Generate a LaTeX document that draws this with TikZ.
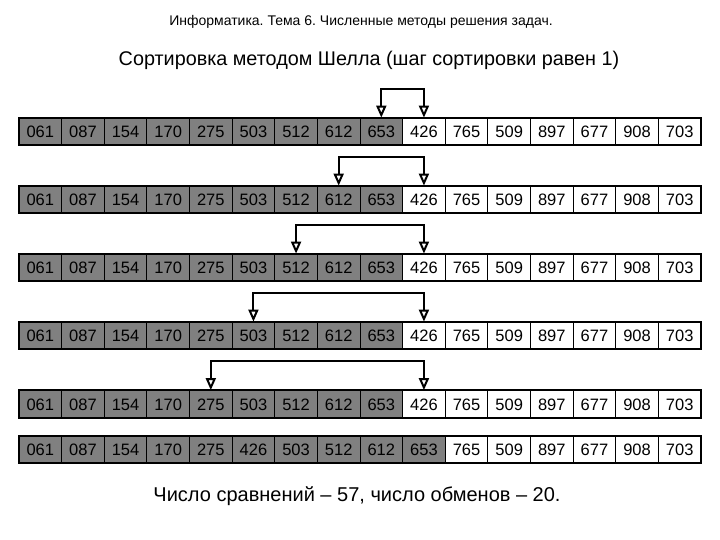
\documentclass[tikz,border=0pt]{standalone}
\usepackage{fontspec}
\setmainfont{Liberation Sans}
\usetikzlibrary{arrows.meta, positioning, calc}
\definecolor{cellgray}{RGB}{128,128,128}
\frenchspacing

\begin{document}
\begin{tikzpicture}[x=1pt, y=-1pt,
    cell/.style={draw,
      minimum width=42.625pt,
      minimum height=27pt,
      inner sep=0pt,
      text height=12pt,
      text depth=0pt,
      anchor=center,
      line width=0.8pt,
      font=\fontsize{16.5}{18}\selectfont},
    graycell/.style={cell, fill=cellgray},
    rowframe/.style={draw, line width=2pt},
    swaparrow/.style={line width=2pt,
      {Triangle[open, length=12pt, width=10pt]}-{Triangle[open, length=12pt, width=10pt]}}]
  \useasboundingbox (0,0) rectangle (720,540);

  % TITLES

  \node (theme) at (361,22) {\fontsize{14}{16}\selectfont
    Информатика. Тема 6. Численные методы решения задач.};

  \node (title) at (369,60) {\fontsize{19.8}{23}\selectfont
    Сортировка методом Шелла (шаг сортировки равен 1)};

  % ROWS

  \foreach \r/\y in {1/131.5, 2/199.5, 3/267.5, 4/335.5, 5/404}{
    \foreach \v [count=\c] in {061,087,154,170,275,503,512,612,653,426,765,509,897,677,908,703}{
      \ifnum\c<10 \def\st{graycell}\else\def\st{cell}\fi
      \node[\st] (r\r c\c) at ({19+(\c-0.5)*42.625},\y) {\v};
    }
    \draw[rowframe] (r\r c1.north west) rectangle (r\r c16.south east);
  }

  \foreach \v [count=\c] in {061,087,154,170,275,426,503,512,612,653,765,509,897,677,908,703}{
    \ifnum\c<11 \def\st{graycell}\else\def\st{cell}\fi
    \node[\st] (r6c\c) at ({19+(\c-0.5)*42.625},449.5) {\v};
  }
  \draw[rowframe] (r6c1.north west) rectangle (r6c16.south east);

  % ARROWS

  \draw[swaparrow] (r1c9.north) -- ++(0,-29) -| (r1c10.north);
  \draw[swaparrow] (r2c8.north) -- ++(0,-29) -| (r2c10.north);
  \draw[swaparrow] (r3c7.north) -- ++(0,-29) -| (r3c10.north);
  \draw[swaparrow] (r4c6.north) -- ++(0,-29) -| (r4c10.north);
  \draw[swaparrow] (r5c5.north) -- ++(0,-29) -| (r5c10.north);

  % RESULT

  \node (result) at (357,496) {\fontsize{20}{23}\selectfont
    Число сравнений – 57, число обменов – 20.};

\end{tikzpicture}
\end{document}
